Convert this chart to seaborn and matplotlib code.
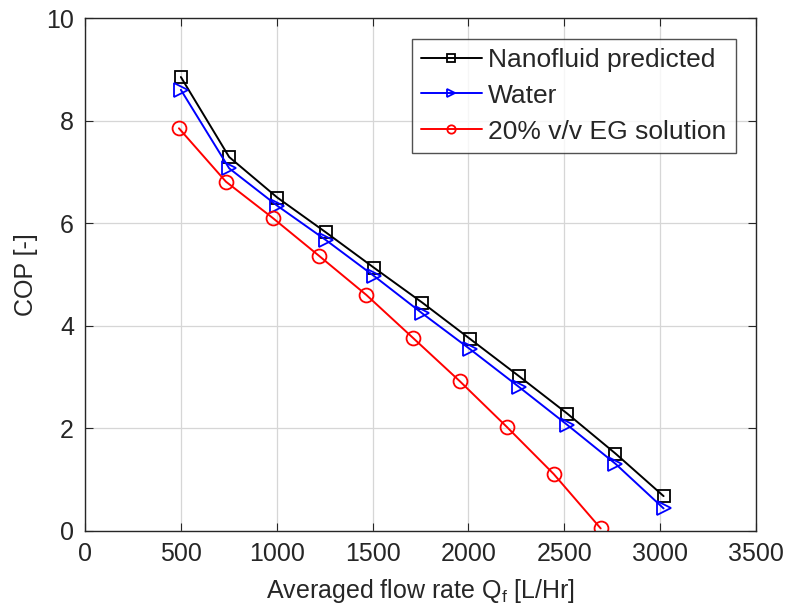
import numpy as np
import pandas as pd
import matplotlib
matplotlib.use("Agg")
import matplotlib.pyplot as plt
import seaborn as sns

# Values
flow_nano = [500, 752, 1003, 1257, 1508, 1760, 2010, 2263, 2515, 2767, 3018]
cop_nano = [8.85, 7.29, 6.50, 5.82, 5.13, 4.45, 3.74, 3.02, 2.29, 1.51, 0.68]

flow_water = [500, 752, 1003, 1257, 1508, 1760, 2010, 2263, 2515, 2767, 3018]
cop_water = [8.60, 7.07, 6.34, 5.67, 4.97, 4.24, 3.54, 2.81, 2.07, 1.31, 0.44]

flow_eg = [490, 735, 980, 1222, 1468, 1712, 1955, 2200, 2445, 2690]
cop_eg = [7.85, 6.81, 6.10, 5.36, 4.60, 3.76, 2.92, 2.03, 1.11, 0.05]

series_names = ["Nanofluid predicted", "Water", "20% v/v EG solution"]
series_colors = ["black", "blue", "red"]
series_markers = ["s", ">", "o"]
series_msize = [8, 10, 10]

x_ticks = [0, 500, 1000, 1500, 2000, 2500, 3000, 3500]
y_ticks = [0, 2, 4, 6, 8, 10]

df = pd.concat([
    pd.DataFrame({"flow": flow_nano, "cop": cop_nano, "fluid": series_names[0]}),
    pd.DataFrame({"flow": flow_water, "cop": cop_water, "fluid": series_names[1]}),
    pd.DataFrame({"flow": flow_eg, "cop": cop_eg, "fluid": series_names[2]}),
])

sns.set_style("ticks")
plt.rcParams["font.family"] = ["Liberation Sans", "DejaVu Sans"]
plt.rcParams["mathtext.fontset"] = "custom"
plt.rcParams["mathtext.rm"] = "Liberation Sans"
plt.rcParams["mathtext.it"] = "Liberation Sans"

fig = plt.figure(figsize=(7.87, 6.12), dpi=100)
ax = fig.add_axes([85 / 787, 1 - 531 / 612, (756 - 85) / 787, (531 - 18) / 612])

for name, col, mk, ms in zip(series_names, series_colors, series_markers, series_msize):
    sub = df[df["fluid"] == name]
    sns.lineplot(data=sub, x="flow", y="cop", ax=ax, color=col, marker=mk,
                 markersize=ms, markerfacecolor="none", markeredgecolor=col,
                 markeredgewidth=1.3, linewidth=1.4, label=name,
                 estimator=None, sort=False)

ax.set_xlim(0, 3500)
ax.set_ylim(0, 10)
ax.set_xticks(x_ticks)
ax.set_yticks(y_ticks)
ax.grid(True, color="#d6d6d6", linewidth=0.9)
ax.set_axisbelow(True)
ax.tick_params(direction="in", top=True, right=True, length=6,
               labelsize=18, colors="#262626", pad=8)
for s in ax.spines.values():
    s.set_color("#262626")
    s.set_linewidth(1.0)

ax.set_xlabel("Averaged flow rate Q$_\\mathregular{f}$ [L/Hr]", fontsize=18,
              color="#262626", labelpad=8)
ax.set_ylabel("COP [-]", fontsize=18, color="#262626", labelpad=6)

leg = ax.legend(loc="upper right", bbox_to_anchor=(0.97, 0.96), fontsize=19,
                frameon=True, fancybox=False, edgecolor="#262626",
                handlelength=2.3, handletextpad=0.25, borderpad=0.35,
                labelspacing=0.45, borderaxespad=0)
leg.get_frame().set_linewidth(1.0)
for h in leg.legend_handles:
    h.set_markersize(6)

fig.savefig("out.png", dpi=100)
